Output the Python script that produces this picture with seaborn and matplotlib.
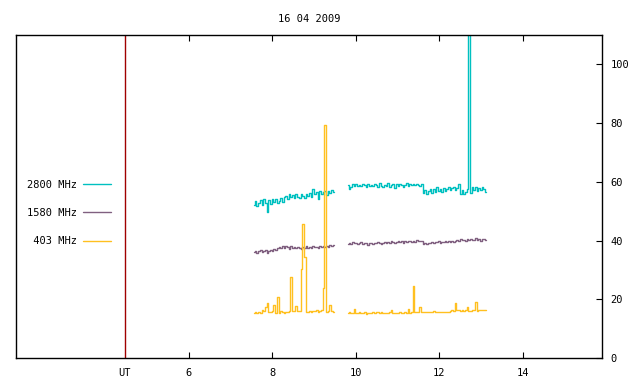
import numpy as np
import pandas as pd
import matplotlib
matplotlib.use('Agg')
import matplotlib.pyplot as plt
import seaborn as sns

# time window (hours UT) of the two recording blocks
seg_a = (7.56, 9.47)
seg_b = (9.81, 13.12)
ut_mark = 4.47

# flux values (one list per band and block)
s2800_a = [52.1, 53.4, 51.6, 52.8, 53.9, 52.2, 54.1, 52.9, 49.6, 53.7, 52.6, 54.0, 53.1, 54.3, 52.8, 53.5,
           54.6, 53.2, 54.9, 55.3, 54.1, 55.8, 54.7, 55.6, 54.4, 55.9, 55.0, 54.6, 56.0, 55.2, 54.5, 55.7,
           55.1, 56.2, 54.9, 57.4, 55.8, 56.6, 54.2, 56.9, 55.9, 56.4, 57.0, 55.6, 56.8, 56.1, 57.2, 56.5]
s2800_b = [58.9, 57.6, 58.4, 59.1, 58.7, 59.3, 58.5, 59.0, 58.6, 59.4, 58.8, 58.3, 59.2, 58.7, 59.0, 58.5,
           59.3, 58.9, 58.4, 59.6, 58.6, 58.1, 59.0, 58.7, 59.5, 58.2, 58.9, 59.3, 57.9, 59.1, 58.6, 59.4,
           58.8, 58.3, 59.0, 59.5, 58.7, 59.2, 58.9, 59.3, 58.8, 59.4, 59.0, 58.7, 59.2, 56.3, 57.1, 55.9,
           56.8, 57.4, 56.2, 57.6, 56.5, 58.3, 56.9, 57.5, 56.4, 57.8, 57.0, 57.4, 58.2, 57.1, 57.9, 58.4,
           57.3, 57.8, 59.4, 56.0, 57.2, 55.8, 56.5, 57.7, 150.0, 56.2, 58.1, 57.3, 58.4, 57.0, 58.0, 57.2,
           58.3, 57.5, 56.4]
s1580_a = [36.1, 36.5, 35.9, 36.3, 36.7, 36.0, 36.4, 36.8, 35.7, 36.6, 36.9, 36.3, 37.1, 36.7, 37.5, 37.9,
           37.4, 38.1, 37.6, 38.3, 37.7, 37.2, 38.0, 37.5, 37.9, 37.3, 37.8, 37.4, 37.1, 37.7, 37.5, 38.0,
           37.4, 37.8, 37.6, 38.2, 37.7, 37.9, 37.5, 38.1, 37.8, 38.3, 37.9, 38.2, 37.7, 38.4, 38.1, 38.5]
s1580_b = [38.7, 39.2, 38.9, 39.4, 39.0, 39.3, 38.8, 39.1, 39.5, 38.9, 39.2, 39.0, 38.6, 39.1, 39.3, 38.8,
           39.2, 39.0, 39.4, 39.1, 38.9, 39.3, 39.6, 39.2, 39.5, 39.1, 39.7, 39.4, 39.2, 39.6, 39.9, 39.5,
           39.7, 39.3, 39.8, 39.6, 40.0, 39.7, 39.5, 39.9, 39.6, 40.1, 39.8, 39.7, 40.0, 38.8, 39.2, 38.9,
           39.3, 39.1, 39.5, 39.2, 39.6, 39.4, 39.7, 39.3, 39.6, 39.5, 39.8, 39.4, 39.7, 39.6, 39.9, 39.5,
           39.8, 40.2, 39.9, 40.5, 40.1, 40.3, 40.0, 40.4, 40.2, 40.6, 40.1, 40.3, 40.7, 40.2, 40.5, 40.0,
           40.4, 40.6, 40.2]
s403_a = [15.2, 15.6, 15.4, 15.8, 15.3, 16.4, 15.9, 17.2, 18.8, 15.7, 15.5, 16.1, 18.0, 15.2, 20.7, 15.4,
          15.9, 15.6, 15.3, 15.7, 15.8, 16.0, 27.5, 15.9, 16.0, 17.8, 15.9, 16.0, 30.3, 45.7, 34.5, 15.6,
          15.8, 16.1, 15.7, 15.9, 16.0, 16.3, 15.8, 16.0, 16.2, 23.9, 79.3, 15.6, 15.9, 18.0, 16.1, 15.8]
s403_b = [15.3, 15.5, 15.2, 15.4, 16.7, 15.2, 15.3, 15.5, 15.4, 15.2, 15.6, 15.1, 15.3, 15.2, 15.4, 15.5,
          15.3, 15.6, 15.5, 15.4, 15.6, 15.3, 15.2, 15.4, 15.3, 15.5, 16.4, 15.2, 15.3, 15.4, 15.2, 15.5,
          15.3, 15.2, 15.6, 15.4, 16.6, 15.3, 15.5, 24.5, 15.7, 15.6, 15.8, 17.3, 15.6, 15.5, 15.7, 15.6,
          15.8, 15.7, 15.6, 16.1, 15.7, 15.8, 15.6, 15.7, 15.6, 15.8, 15.7, 15.6, 15.8, 16.0, 16.2, 16.1,
          18.7, 16.3, 16.2, 16.1, 16.3, 16.0, 16.2, 17.3, 15.9, 16.0, 16.3, 16.2, 19.0, 16.1, 16.3, 16.2,
          16.4, 16.3, 16.2]

bands = ['2800 MHz', '1580 MHz', ' 403 MHz']
colors = ['#00c0c0', '#806080', '#ffc020']
series = {bands[0]: (s2800_a, s2800_b), bands[1]: (s1580_a, s1580_b), bands[2]: (s403_a, s403_b)}

# long table: one row per sample
rows = []
for band, (va, vb) in series.items():
    for seg, (t0, t1), vals in (('a', seg_a, va), ('b', seg_b, vb)):
        for t, v in zip(np.linspace(t0, t1, len(vals)), vals):
            rows.append((band, seg, t, v))
df = pd.DataFrame(rows, columns=['band', 'seg', 'hour', 'flux'])

sns.set_theme(style='white')
plt.rcParams['font.family'] = ['DejaVu Sans Mono']
plt.rcParams['text.color'] = 'black'

fig = plt.figure(figsize=(6.4, 3.84), dpi=100)
ax = fig.add_axes([16/640, 1 - 358/384, 586/640, 323/384])

ax.axvline(ut_mark, color='#a00000', lw=1)
sns.lineplot(data=df, x='hour', y='flux', hue='band', units='seg', estimator=None,
             hue_order=bands, palette=colors, lw=1, sort=False, drawstyle='steps-mid', ax=ax)

ax.set_xlim(1.86, 15.9)
ax.set_ylim(0, 110)
ax.set_xlabel('')
ax.set_ylabel('')

ax.set_xticks([ut_mark, 6, 8, 10, 12, 14])
ax.set_xticklabels(['UT', '6', '8', '10', '12', '14'])
ax.tick_params(axis='x', direction='in', top=True, bottom=True, length=4, width=0.8,
               labelsize=7.5, pad=7, colors='black')
t0 = ax.xaxis.get_major_ticks()[0]
t0.tick1line.set_visible(False)
t0.tick2line.set_visible(False)

ax.yaxis.tick_right()
ax.set_yticks(range(0, 101, 20))
ax.tick_params(axis='y', direction='in', right=True, left=False, length=4, width=0.8,
               labelsize=7.5, pad=6, colors='black')

for sp in ax.spines.values():
    sp.set_color('black')
    sp.set_linewidth(1)

ax.set_title('16 04 2009', fontsize=7.5, pad=9, color='black')

handles, labels = ax.get_legend_handles_labels()
leg = ax.legend(handles, labels, markerfirst=False, frameon=False, loc='center right',
                bbox_to_anchor=(111/640, 1 - 213/384), bbox_transform=fig.transFigure,
                borderpad=0, borderaxespad=0, fontsize=7.5, labelspacing=1.75,
                handlelength=2.7, handletextpad=0.6)
for txt in leg.get_texts():
    txt.set_color('black')

fig.savefig('out.png', dpi=100)
